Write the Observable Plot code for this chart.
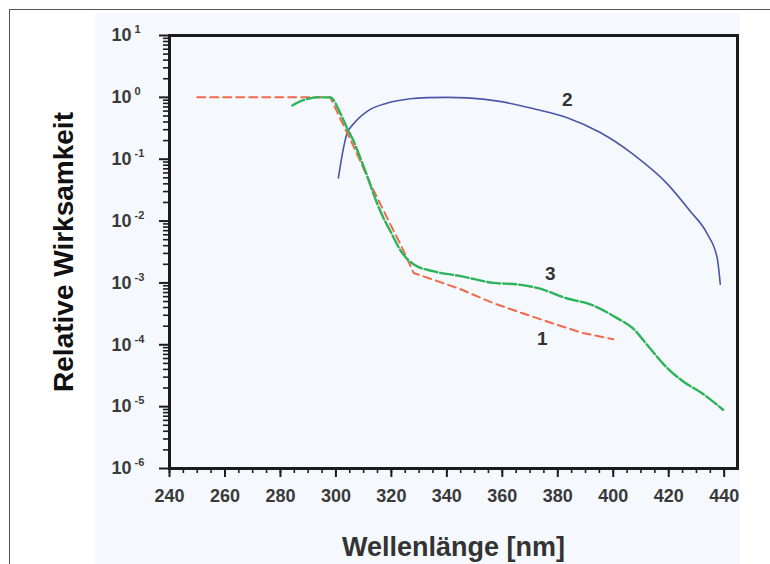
<!DOCTYPE html>
<html><head><meta charset="utf-8">
<script src="https://cdn.jsdelivr.net/npm/d3@7"></script>
<script src="https://cdn.jsdelivr.net/npm/@observablehq/plot@0.6"></script>
<style>
body{margin:0;background:#fff;}
#wrap{position:relative;width:770px;height:564px;overflow:hidden;background:#fff;}
#border{position:absolute;left:9px;top:9px;right:-4px;bottom:-4px;border-left:1.5px solid #555;border-top:1.5px solid #555;}
#panel{position:absolute;left:95px;top:13px;width:645px;height:551px;background:#f5f9fd;}
#chart{position:absolute;left:0;top:0;}
</style></head>
<body><div id="wrap"><div id="border"></div><div id="panel"></div><div id="chart"></div></div>
<script>
// Curve 1 (red dashed)
const wl1 = [250, 298, 301.6, 305.2, 308.8, 312.4, 316, 319.6, 323.2, 328, 336.6, 345, 356.8, 367.6, 379.8, 389, 400];
const v1  = [1, 1, 0.45, 0.21, 0.093, 0.040, 0.019, 0.0089, 0.0043, 0.00145, 0.00107, 0.00079, 0.00047, 0.00032, 0.00021, 0.000155, 0.000123];
// Curve 2 (blue solid)
const wl2 = [300.9, 302.3, 304, 306.3, 311.4, 318.6, 326.8, 333, 340, 347.4, 359, 371, 383.4, 395.3, 407.2, 419.5, 427.7, 433.9, 437.5, 438.6];
const v2  = [0.05, 0.12, 0.26, 0.37, 0.6, 0.81, 0.95, 0.99, 1.0, 0.98, 0.86, 0.66, 0.47, 0.27, 0.12, 0.04, 0.0145, 0.0062, 0.0025, 0.00095];
// Curve 3 (green dashed)
const wl3 = [284.3, 288, 293, 298, 301.6, 304, 306.3, 308.8, 311, 313.5, 316, 319.6, 324, 328, 335, 345, 356.8, 365, 372.6, 383.4, 391.7, 401.4, 407, 413.3, 419.5, 425, 432.4, 439.6];
const v3  = [0.74, 0.89, 1.0, 1.0, 0.55, 0.32, 0.2, 0.105, 0.058, 0.028, 0.0145, 0.0069, 0.0030, 0.0020, 0.00155, 0.00129, 0.0010, 0.00095, 0.00083, 0.00056, 0.00045, 0.00027, 0.000186, 0.000087, 0.000042, 0.000026, 0.000016, 0.0000089];

// Curve labels
const labelText = ["1", "2", "3"];
const labelX = [374.4, 383.4, 377.3];
const labelY = [0.000123, 0.92, 0.00139];

// Axis ticks
const xTicks = [240, 260, 280, 300, 320, 340, 360, 380, 400, 420, 440];
const xMinor = d3.range(240, 445, 5);
const yExp = [1, 0, -1, -2, -3, -4, -5, -6];
const yTicks = yExp.map(e => Math.pow(10, e));
const yMinor = [];
for (let e = -6; e < 1; e++) for (let m = 2; m <= 9; m++) yMinor.push(m * Math.pow(10, e));

const xLabel = "Wellenlänge [nm]";
const yLabel = "Relative Wirksamkeit";

const s1 = wl1.map((x, i) => ({x, y: v1[i]}));
const s2 = wl2.map((x, i) => ({x, y: v2[i]}));
const s3 = wl3.map((x, i) => ({x, y: v3[i]}));
const labels = labelText.map((t, i) => ({t, x: labelX[i], y: labelY[i]}));

const ink = "#1b1b1b";
const chart = Plot.plot({
  width: 770, height: 564,
  marginLeft: 169, marginRight: 33, marginTop: 35, marginBottom: 96,
  style: {background: "transparent", fontFamily: "'Liberation Sans', Arial, sans-serif", color: "#333"},
  x: {domain: [240, 444.8]},
  y: {type: "log", domain: [1e-6, 10]},
  marks: [
    Plot.line(s2, {x: "x", y: "y", stroke: "#4c56a8", strokeWidth: 1.6, curve: "monotone-x"}),
    Plot.line(s1, {x: "x", y: "y", stroke: "#f26a4c", strokeWidth: 2, strokeDasharray: "8,5"}),
    Plot.line(s3, {x: "x", y: "y", stroke: "#2db35a", strokeWidth: 2.4, strokeDasharray: "13,3", curve: "monotone-x"}),
    Plot.text(labels, {x: "x", y: "y", text: "t", fontSize: 19, fontWeight: "bold", fill: "#333"}),
    Plot.axisX({ticks: xMinor, tickSize: 5, tickFormat: () => "", stroke: ink, strokeWidth: 1.6, label: null}),
    Plot.axisX({ticks: xTicks, tickSize: 9, tickPadding: 12, tickFormat: d => String(d), stroke: ink, strokeWidth: 2, fontSize: 18, fontWeight: "bold", fill: "#3a3a3a", label: null}),
    Plot.axisY({ticks: yMinor, tickSize: 6, tickFormat: () => "", stroke: ink, strokeWidth: 1.6, label: null}),
    Plot.axisY({ticks: yTicks, tickSize: 10, tickFormat: () => "", stroke: ink, strokeWidth: 2, label: null}),
    Plot.text(yTicks, {y: d => d, frameAnchor: "left", dx: -58, textAnchor: "start", text: (d, i) => "10^" + (yExp[i] < 0 ? "-" + (-yExp[i]) : yExp[i]), fontSize: 18, fontWeight: "bold", fill: "#3a3a3a"}),
    Plot.text([yLabel], {frameAnchor: "left", dx: -105, rotate: -90, textAnchor: "middle", text: d => d, fontSize: 28, fontWeight: "bold", fill: "#111"}),
    Plot.text([xLabel], {frameAnchor: "bottom", dy: 87, textAnchor: "middle", text: d => d, fontSize: 27, fontWeight: "bold", fill: "#333"}),
    Plot.frame({stroke: ink, strokeWidth: 3})
  ]
});

const svgns = "http://www.w3.org/2000/svg";
chart.querySelectorAll("text").forEach(t => {
  if (t.childElementCount || !t.textContent.includes("^")) return;
  const [b, e] = t.textContent.split("^");
  t.textContent = b;
  const ts = document.createElementNS(svgns, "tspan");
  ts.setAttribute("dx", "3");
  ts.setAttribute("dy", "-8");
  ts.setAttribute("font-size", "11");
  ts.textContent = e;
  t.appendChild(ts);
});
document.getElementById("chart").appendChild(chart);
</script>
</body></html>
